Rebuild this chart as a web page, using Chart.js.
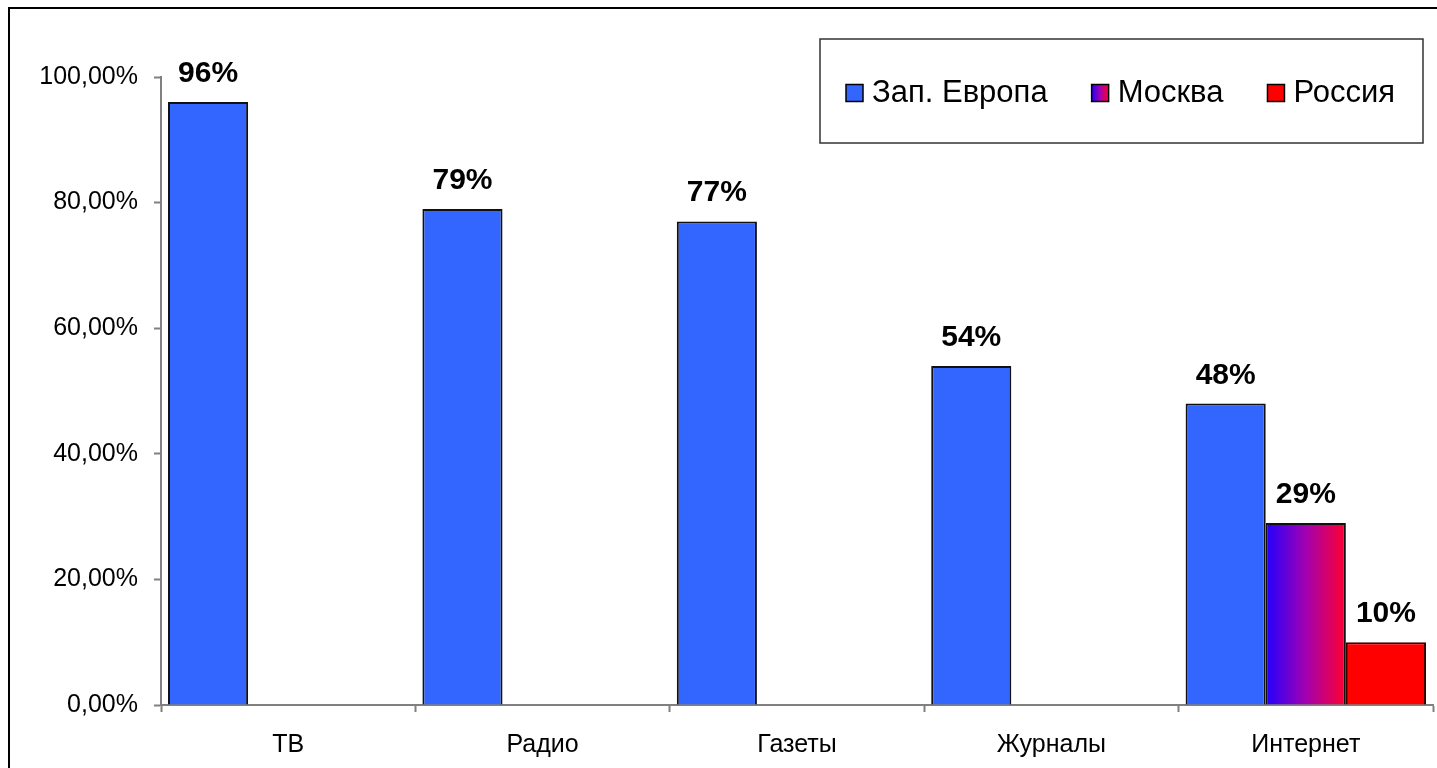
<!DOCTYPE html>
<html lang="ru">
<head>
<meta charset="utf-8">
<title>Аудитория СМИ</title>
<script src="https://cdn.jsdelivr.net/npm/chart.js@4.4.1/dist/chart.umd.min.js"></script>
<style>
    html, body { margin: 0; padding: 0; background: #fff; overflow: hidden; }
    #wrap { position: relative; width: 1437px; height: 768px; }
</style>
</head>
<body>
<div id="wrap"><canvas id="mediaChart" width="1437" height="768"></canvas></div>
<script>
/* =========================
   DATA
========================= */

const categories = ["ТВ", "Радио", "Газеты", "Журналы", "Интернет"];
const seriesNames = ["Зап. Европа", "Москва", "Россия"];
const westEurope = [96, 79, 77, 54, 48];
const moscow = [null, null, null, null, 29];
const russia = [null, null, null, null, 10];
const yTicks = [0, 20, 40, 60, 80, 100];

/* =========================
   STYLE CONSTANTS
========================= */

const FONT = "'Liberation Sans', Arial, sans-serif";
const CAT_PCT = 0.945;
const BLUE = "#3366ff";
const RED = "#ff0000";

// horizontal blue -> red fill used for the Moscow series
function moscowGradient(ctx, x0, x1) {
    const g = ctx.createLinearGradient(x0, 0, x1, 0);
    g.addColorStop(0, "#2200ff");
    g.addColorStop(0.5, "#a300b0");
    g.addColorStop(1, "#ff0030");
    return g;
}

function moscowFill(c) {
    const chart = c.chart;
    const x = chart.scales.x;
    if (!x || c.dataIndex === undefined) return "#a300b0";
    const center = x.getPixelForValue(c.dataIndex);
    const slot = (x.width / categories.length) * CAT_PCT / 3;
    if (!Number.isFinite(center) || !Number.isFinite(slot) || slot <= 0) return "#a300b0";
    return moscowGradient(chart.ctx, center - slot / 2, center + slot / 2);
}

/* =========================
   PLUGINS
========================= */

// white page with the outer frame
const framePlugin = {
    id: "frame",
    beforeDraw(chart) {
        const { ctx, width, height } = chart;
        ctx.save();
        ctx.fillStyle = "#fff";
        ctx.fillRect(0, 0, width, height);
        ctx.strokeStyle = "#000";
        ctx.lineWidth = 2;
        ctx.strokeRect(9, 8, width + 20, height + 20);
        ctx.restore();
    }
};

// bold value labels above each bar
const valueLabels = {
    id: "valueLabels",
    afterDatasetsDraw(chart) {
        const { ctx } = chart;
        ctx.save();
        ctx.font = "bold 30px " + FONT;
        ctx.fillStyle = "#000";
        ctx.textAlign = "center";
        ctx.textBaseline = "alphabetic";
        chart.data.datasets.forEach((ds, di) => {
            const meta = chart.getDatasetMeta(di);
            meta.data.forEach((bar, i) => {
                const v = ds.data[i];
                if (v === null || v === undefined) return;
                ctx.fillText(v + "%", bar.x, bar.y - 20);
            });
        });
        ctx.restore();
    }
};

// boxed legend sitting inside the plot area
const boxLegend = {
    id: "boxLegend",
    afterDraw(chart) {
        const { ctx } = chart;
        const box = { x: 820, y: 39, w: 603, h: 104 };
        ctx.save();
        ctx.strokeStyle = "#333";
        ctx.lineWidth = 1.5;
        ctx.fillStyle = "#fff";
        ctx.fillRect(box.x, box.y, box.w, box.h);
        ctx.strokeRect(box.x, box.y, box.w, box.h);

        ctx.font = "31px " + FONT;
        ctx.textBaseline = "middle";
        ctx.textAlign = "left";
        const cy = box.y + box.h / 2 + 2;
        const sq = 17;
        let x = 846;
        chart.data.datasets.forEach((ds, di) => {
            let fill = ds.swatch;
            if (di === 1) fill = moscowGradient(ctx, x, x + sq);
            ctx.fillStyle = fill;
            ctx.fillRect(x, cy - sq / 2, sq, sq);
            ctx.lineWidth = 1.5;
            ctx.strokeStyle = "#000";
            ctx.strokeRect(x, cy - sq / 2, sq, sq);
            ctx.fillStyle = "#000";
            ctx.fillText(ds.label, x + sq + 9, cy);
            x += sq + 9 + ctx.measureText(ds.label).width + 44;
        });
        ctx.restore();
    }
};

/* =========================
   CHART
========================= */

function renderMediaChart() {
    const ctx = document.getElementById("mediaChart");
    if (!ctx) return;

    new Chart(ctx, {
        type: "bar",
        data: {
            labels: categories,
            datasets: [
                {
                    label: seriesNames[0],
                    data: westEurope,
                    backgroundColor: BLUE,
                    swatch: BLUE,
                    borderColor: "#111",
                    borderWidth: 2
                },
                {
                    label: seriesNames[1],
                    data: moscow,
                    backgroundColor: moscowFill,
                    swatch: "#a300b0",
                    borderColor: "#111",
                    borderWidth: 2
                },
                {
                    label: seriesNames[2],
                    data: russia,
                    backgroundColor: RED,
                    swatch: RED,
                    borderColor: "#3a0000",
                    borderWidth: 2
                }
            ]
        },
        options: {
            responsive: false,
            animation: false,
            events: [],
            layout: {
                padding: { left: 0, top: 77, right: 4, bottom: 0 }
            },
            datasets: {
                bar: { categoryPercentage: CAT_PCT, barPercentage: 1 }
            },
            plugins: {
                legend: { display: false },
                tooltip: { enabled: false }
            },
            scales: {
                x: {
                    afterFit(scale) { scale.height = 63; },
                    grid: {
                        drawOnChartArea: false,
                        drawTicks: true,
                        tickLength: 7,
                        tickWidth: 2,
                        color: "#808080"
                    },
                    border: { color: "#808080", width: 2 },
                    ticks: {
                        color: "#000",
                        padding: 18,
                        font: { family: FONT, size: 25 }
                    }
                },
                y: {
                    min: 0,
                    max: 100,
                    afterFit(scale) { scale.width = 161; },
                    afterBuildTicks(scale) {
                        scale.ticks = yTicks.map(v => ({ value: v }));
                    },
                    grid: {
                        drawOnChartArea: false,
                        drawTicks: true,
                        tickLength: 7,
                        tickWidth: 2,
                        color: "#808080"
                    },
                    border: { color: "#808080", width: 2 },
                    ticks: {
                        color: "#000",
                        padding: 16,
                        font: { family: FONT, size: 25 },
                        callback: v => v.toFixed(2).replace(".", ",") + "%"
                    }
                }
            }
        },
        plugins: [framePlugin, valueLabels, boxLegend]
    });
}

document.addEventListener("DOMContentLoaded", renderMediaChart);
</script>
</body>
</html>
